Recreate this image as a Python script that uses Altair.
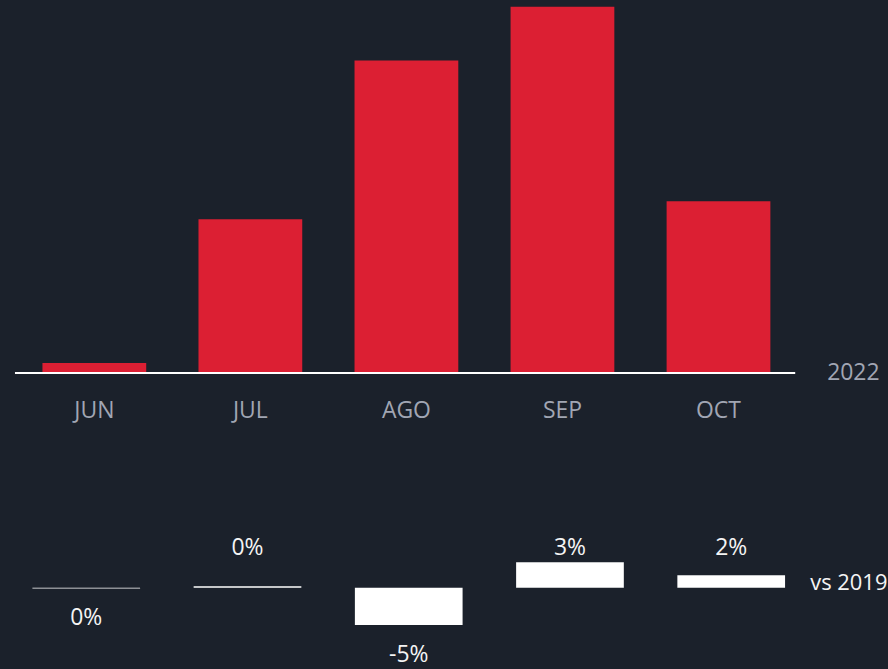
import altair as alt
import pandas as pd

months = ["JUN", "JUL", "AGO", "SEP", "OCT"]
values_2022 = [10, 154, 313, 367, 172]
change_vs_2019 = [-0.1, 0.2, -5.05, 3.45, 1.7]
change_labels = ["0%", "0%", "-5%", "3%", "2%"]
year_label = ["2022"]
compare_label = ["vs 2019"]

BG = "#1b212b"
RED = "#dc1f33"
GREY = "#a1a6b3"
WHITE = "#f4f4f4"
FONT = "Open Sans"
FS = 23

top_df = pd.DataFrame({"mes": months, "v": values_2022})
bot_df = pd.DataFrame({"mes": months, "v": change_vs_2019, "label": change_labels})
year_df = pd.DataFrame({"t": year_label, "v": [0]})
vs_df = pd.DataFrame({"t": compare_label, "v": [0]})

xt = alt.X(
    "mes:N", sort=months,
    scale=alt.Scale(paddingInner=0.335, paddingOuter=0.5065, align=0.2685),
    axis=alt.Axis(title=None, labelAngle=0, ticks=False, tickSize=0, domain=False,
                  labelColor=GREY, labelFont=FONT,
                  labelFontSize=FS, labelPadding=27, grid=False),
)
yt = alt.Y("v:Q", scale=alt.Scale(domain=[0, 373], nice=False), axis=None)

top_bars = alt.Chart(top_df).mark_bar(color=RED).encode(x=xt, y=yt)
baseline = alt.Chart(year_df).mark_rule(
    color="white", strokeWidth=2
).encode(x=alt.value(15), x2=alt.value(797), y=yt)
top_text = alt.Chart(year_df).mark_text(
    align="left", baseline="middle", fontSize=FS, color=GREY, font=FONT
).encode(x=alt.value(829), y=yt, text="t:N")

top = alt.layer(top_bars, baseline, top_text).properties(width=888, height=373)

xb = alt.X(
    "mes:N", sort=months,
    scale=alt.Scale(paddingInner=0.332, paddingOuter=0.4135, align=0.243),
    axis=None,
)
yb_scale = alt.Scale(domain=[-10.9, 29.1], nice=False)
yb = alt.Y("v:Q", scale=yb_scale, axis=None)

bot_bars = alt.Chart(bot_df).mark_bar(color="white").encode(x=xb, y=yb)
lab_up = alt.Chart(bot_df).transform_filter("datum.v >= 0").transform_calculate(
    base="0"
).mark_text(
    dy=-40, baseline="middle", fontSize=FS, color=WHITE, font=FONT
).encode(x=xb, y=alt.Y("base:Q", scale=yb_scale, axis=None), text="label:N")
lab_down = alt.Chart(bot_df).transform_filter("datum.v < 0").mark_text(
    dy=30, baseline="middle", fontSize=FS, color=WHITE, font=FONT
).encode(x=xb, y=yb, text="label:N")
vs_text = alt.Chart(vs_df).mark_text(
    align="left", baseline="middle", dy=-5, fontSize=22, color=WHITE, font=FONT
).encode(x=alt.value(812), y=yb, text="t:N")

bottom = alt.layer(bot_bars, lab_up, lab_down, vs_text).properties(width=888, height=296)

chart = alt.vconcat(top, bottom, spacing=0).properties(
    background=BG, padding=0, bounds="flush",
).configure_view(stroke=None)

chart.save("out.html", embed_options={"renderer": "svg", "actions": False})
